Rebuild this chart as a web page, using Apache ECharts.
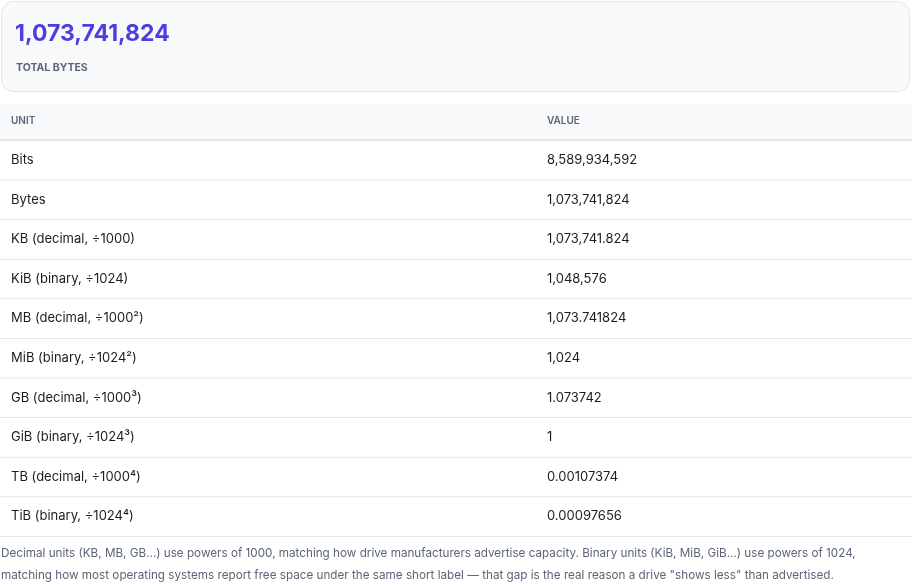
<!DOCTYPE html>
<html><head><meta charset="utf-8">
<script src="https://cdn.jsdelivr.net/npm/echarts@6/dist/echarts.min.js"></script>
<style>html,body{margin:0;padding:0;background:#fff}#c{width:912px;height:584px}</style>
</head><body><div id="c"></div>
<script>
const totalValue = "1,073,741,824";
const totalLabel = "TOTAL BYTES";
const columns = ["UNIT", "VALUE"];
const units = ["Bits","Bytes","KB (decimal, ÷1000)","KiB (binary, ÷1024)","MB (decimal, ÷1000²)","MiB (binary, ÷1024²)","GB (decimal, ÷1000³)","GiB (binary, ÷1024³)","TB (decimal, ÷1000⁴)","TiB (binary, ÷1024⁴)"];
const values = ["8,589,934,592","1,073,741,824","1,073,741.824","1,048,576","1,073.741824","1,024","1.073742","1","0.00107374","0.00097656"];
const notes = ["Decimal units (KB, MB, GB…) use powers of 1000, matching how drive manufacturers advertise capacity. Binary units (KiB, MiB, GiB…) use powers of 1024,",
"matching how most operating systems report free space under the same short label — that gap is the real reason a drive \"shows less\" than advertised."];

const F = "Inter, 'Noto Sans', sans-serif";
const g = [];
g.push({type:'rect',shape:{x:1.5,y:1.5,width:908,height:90,r:12},style:{fill:'#f8f9fb',stroke:'#e3e6eb',lineWidth:1}});
g.push({type:'text',x:15,y:34,style:{text:totalValue,font:'bold 23px '+F,fill:'#4b3fe0',textVerticalAlign:'middle'}});
g.push({type:'text',x:16,y:68,style:{text:totalLabel,font:'bold 10.5px '+F,fill:'#5b6577',textVerticalAlign:'middle',letterSpacing:0.6}});
g.push({type:'rect',shape:{x:0,y:104,width:912,height:35},style:{fill:'#f8f9fb'}});
g.push({type:'rect',shape:{x:0,y:139,width:912,height:2},style:{fill:'#e3e6eb'}});
g.push({type:'text',x:11,y:121,style:{text:columns[0],font:'600 10px '+F,fill:'#5b6577',textVerticalAlign:'middle',letterSpacing:0.6}});
g.push({type:'text',x:547,y:121,style:{text:columns[1],font:'600 10px '+F,fill:'#5b6577',textVerticalAlign:'middle',letterSpacing:0.6}});
units.forEach((u,i)=>{
  const cy = 160 + i*39.6;
  g.push({type:'text',x:11,y:cy,style:{text:u,font:'13px '+F,fill:'#1a1d24',textVerticalAlign:'middle'}});
  g.push({type:'text',x:547,y:cy,style:{text:values[i],font:'13px '+F,fill:'#1a1d24',textVerticalAlign:'middle'}});
  g.push({type:'rect',shape:{x:0,y:cy+19.5,width:912,height:1},style:{fill:'#e6e8ec'}});
});
notes.forEach((n,i)=>{
  g.push({type:'text',x:1,y:553+i*22,style:{text:n,font:'11.7px '+F,fill:'#5b6577',textVerticalAlign:'middle'}});
});
const chart = echarts.init(document.getElementById('c'));
chart.setOption({animation:false,graphic:{elements:g}});
</script></body></html>
